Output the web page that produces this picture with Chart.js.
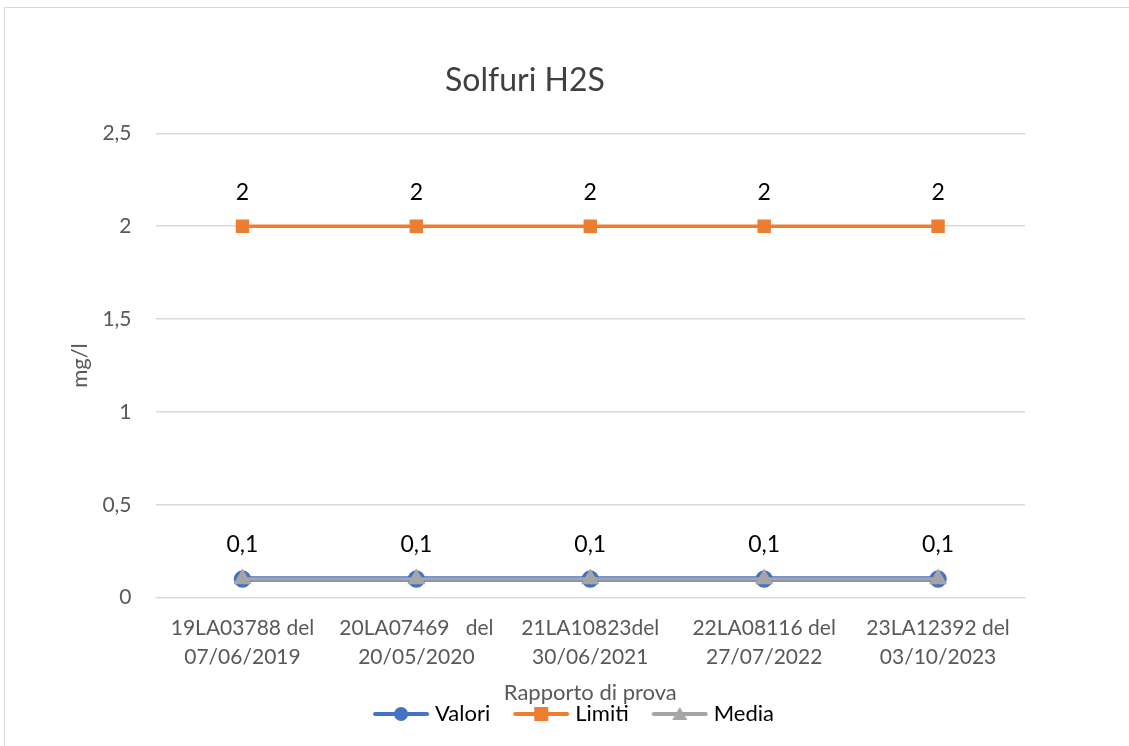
<!DOCTYPE html>
<html>
<head>
<meta charset="utf-8">
<script src="https://cdn.jsdelivr.net/npm/chart.js@4"></script>
<style>
  html, body { margin: 0; padding: 0; background: #fff; }
</style>
</head>
<body>
<canvas id="myChart" width="1129" height="746"></canvas>
<script>
// Rapporti di prova (categorie asse X, due righe ciascuna)
const rapporti = [
    ["19LA03788 del", "07/06/2019"],
    ["20LA07469   del", "20/05/2020"],
    ["21LA10823del", "30/06/2021"],
    ["22LA08116 del", "27/07/2022"],
    ["23LA12392 del", "03/10/2023"]
];
const valori = [0.1, 0.1, 0.1, 0.1, 0.1];
const limiti = [2, 2, 2, 2, 2];
const media = [0.1, 0.1, 0.1, 0.1, 0.1];
const yTicks = [0, 0.5, 1, 1.5, 2, 2.5];

const FONT = "Lato, 'Open Sans', sans-serif";
const fmt = v => String(v).replace(".", ",");

// piccola icona linea + marcatore per la legenda
function legendIcon(color, shape) {
    const c = document.createElement("canvas");
    c.width = 58; c.height = 18;
    const g = c.getContext("2d");
    g.strokeStyle = color; g.fillStyle = color;
    g.lineWidth = 4; g.lineCap = "round";
    g.beginPath(); g.moveTo(3, 9); g.lineTo(55, 9); g.stroke();
    g.beginPath();
    if (shape === "circle") g.arc(29, 9, 7, 0, Math.PI * 2);
    else if (shape === "rect") g.rect(22, 2, 14, 14);
    else { g.moveTo(29, 2); g.lineTo(36.5, 15); g.lineTo(21.5, 15); g.closePath(); }
    g.fill();
    return c;
}

// etichette dei valori sopra i punti
const valueLabels = {
    id: "valueLabels",
    afterDatasetsDraw(chart) {
        const ctx = chart.ctx;
        ctx.save();
        ctx.font = "23px " + FONT;
        ctx.fillStyle = "#000";
        ctx.textAlign = "center";
        ctx.textBaseline = "middle";
        chart.data.datasets.forEach((ds, i) => {
            if (!ds.showLabels) return;
            chart.getDatasetMeta(i).data.forEach((pt, j) => {
                ctx.fillText(fmt(ds.data[j]), pt.x, pt.y - 34);
            });
        });
        ctx.restore();
    }
};

// cornice dell'area grafico; titolo un po' a sinistra, legenda a destra
const frame = {
    id: "frame",
    afterLayout(chart) {
        chart.legend.left += 30;
        chart.legend.right += 30;
        chart.titleBlock.left -= 21;
        chart.titleBlock.right -= 21;
    },
    beforeDraw(chart) {
        const ctx = chart.ctx;
        ctx.save();
        ctx.strokeStyle = "#d9d9d9";
        ctx.lineWidth = 1;
        ctx.strokeRect(4.5, 7.5, 1200, 800);
        ctx.restore();
    }
};

const icons = [
    legendIcon("#4472C4", "circle"),
    legendIcon("#ED7D31", "rect"),
    legendIcon("#A5A5A5", "triangle")
];

const ctx = document.getElementById("myChart").getContext("2d");
new Chart(ctx, {
    type: "line",
    data: {
        labels: rapporti,
        datasets: [
            {
                label: "Valori",
                data: valori,
                order: 2,
                borderColor: "#4472C4",
                backgroundColor: "#4472C4",
                borderWidth: 5.5,
                pointStyle: "circle",
                pointRadius: 6,
                showLabels: true
            },
            {
                label: "Limiti",
                data: limiti,
                order: 1,
                borderColor: "#ED7D31",
                backgroundColor: "#ED7D31",
                borderWidth: 3.5,
                pointStyle: "rect",
                pointRadius: 7,
                showLabels: true
            },
            {
                label: "Media",
                data: media,
                order: 0,
                borderColor: "#A5A5A5",
                backgroundColor: "#A5A5A5",
                borderWidth: 3.5,
                pointStyle: "triangle",
                pointRadius: 7
            }
        ]
    },
    options: {
        responsive: false,
        animation: false,
        layout: { padding: { left: 67, right: 104, top: 61, bottom: 11 } },
        plugins: {
            title: {
                display: true,
                text: "Solfuri H2S",
                color: "#404040",
                font: { family: FONT, size: 32, weight: "normal" },
                padding: { top: 0, bottom: 34 }
            },
            legend: {
                position: "bottom",
                labels: {
                    usePointStyle: true,
                    pointStyleWidth: 46,
                    color: "#000",
                    padding: 28,
                    font: { family: FONT, size: 22 },
                    generateLabels(chart) {
                        const items = Chart.defaults.plugins.legend.labels.generateLabels(chart);
                        items.sort((a, b) => a.datasetIndex - b.datasetIndex);
                        items.forEach(it => { it.pointStyle = icons[it.datasetIndex]; });
                        return items;
                    }
                }
            },
            tooltip: { enabled: false }
        },
        scales: {
            x: {
                offset: true,
                grid: { display: false },
                border: { color: "#d9d9d9", width: 1 },
                ticks: {
                    color: "#595959",
                    font: { family: FONT, size: 21, lineHeight: 1.38 },
                    maxRotation: 0,
                    autoSkip: false,
                    padding: 8
                },
                title: {
                    display: true,
                    text: "Rapporto di prova",
                    color: "#595959",
                    font: { family: FONT, size: 22 },
                    padding: { top: 0, bottom: -31 }
                }
            },
            y: {
                min: 0,
                max: 2.5,
                afterBuildTicks(scale) {
                    scale.ticks = yTicks.map(v => ({ value: v }));
                },
                grid: { color: "#d9d9d9", lineWidth: 1.5, drawTicks: false },
                border: { display: false },
                ticks: {
                    color: "#595959",
                    font: { family: FONT, size: 21 },
                    padding: 24,
                    callback: v => fmt(v)
                },
                title: {
                    display: true,
                    text: "mg/l",
                    color: "#595959",
                    font: { family: FONT, size: 22 },
                    padding: { top: 0, bottom: -15 }
                }
            }
        }
    },
    plugins: [frame, valueLabels]
});
</script>
</body>
</html>
